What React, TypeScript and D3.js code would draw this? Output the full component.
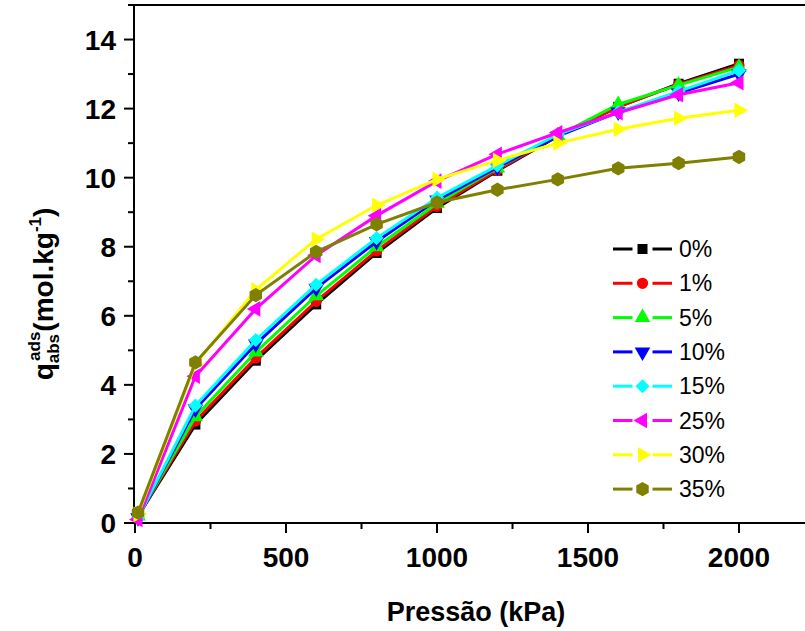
import React from "react";
import * as d3 from "d3";

const pressures = [10, 200, 400, 600, 800, 1000, 1200, 1400, 1600, 1800, 2000];
const seriesNames = ["0%", "1%", "5%", "10%", "15%", "25%", "30%", "35%"];
const s0 = [0.2, 2.85, 4.7, 6.33, 7.82, 9.12, 10.2, 11.2, 12.05, 12.72, 13.3];
const s1 = [0.2, 2.95, 4.78, 6.42, 7.88, 9.17, 10.22, 11.22, 12.05, 12.7, 13.25];
const s5 = [0.2, 3.08, 4.95, 6.58, 8.0, 9.25, 10.28, 11.22, 12.12, 12.68, 13.2];
const s10 = [0.15, 3.3, 5.18, 6.8, 8.15, 9.35, 10.3, 11.2, 11.9, 12.45, 13.0];
const s15 = [0.15, 3.4, 5.3, 6.9, 8.25, 9.42, 10.35, 11.25, 11.9, 12.5, 13.1];
const s25 = [0.1, 4.25, 6.2, 7.75, 8.9, 9.9, 10.68, 11.3, 11.88, 12.4, 12.75];
const s30 = [0.25, 4.6, 6.75, 8.22, 9.2, 9.95, 10.5, 11.0, 11.4, 11.72, 11.95];
const s35 = [0.3, 4.65, 6.6, 7.85, 8.65, 9.28, 9.65, 9.95, 10.27, 10.42, 10.6];
const seriesValues = [s0, s1, s5, s10, s15, s25, s30, s35];
const colors = ["#000000", "#FF0000", "#00FF00", "#0000FF", "#00FFFF", "#FF00FF", "#FFFF00", "#808000"];
const markers = ["square", "circle", "triUp", "triDown", "diamond", "triLeft", "triRight", "hexagon"];

const xTicks = [0, 500, 1000, 1500, 2000];
const xMinor = [250, 750, 1250, 1750, 2250];
const yTicks = [0, 2, 4, 6, 8, 10, 12, 14];
const yMinor = [1, 3, 5, 7, 9, 11, 13, 15];

const W = 805;
const H = 631;
const left = 134;
const top = 5;
const bottom = 523;

const x = d3.scaleLinear().domain([0, 2000]).range([135, 739]);
const y = d3.scaleLinear().domain([0, 15]).range([bottom, top]);

const FONT = "'Liberation Sans', Arial, sans-serif";

function markerPath(kind: string): { d: string; rot: number } {
  switch (kind) {
    case "square":
      return { d: d3.symbol().type(d3.symbolSquare).size(100)() as string, rot: 0 };
    case "circle":
      return { d: d3.symbol().type(d3.symbolCircle).size(100)() as string, rot: 0 };
    case "triUp":
      return { d: d3.symbol().type(d3.symbolTriangle).size(105)() as string, rot: 0 };
    case "triDown":
      return { d: d3.symbol().type(d3.symbolTriangle).size(105)() as string, rot: 180 };
    case "triLeft":
      return { d: d3.symbol().type(d3.symbolTriangle).size(105)() as string, rot: -90 };
    case "triRight":
      return { d: d3.symbol().type(d3.symbolTriangle).size(105)() as string, rot: 90 };
    case "diamond":
      return { d: d3.symbol().type(d3.symbolSquare).size(100)() as string, rot: 45 };
    default: {
      const r = 7.2;
      const pts = d3.range(6).map((i) => {
        const a = (Math.PI / 3) * i - Math.PI / 2;
        return [r * Math.cos(a), r * Math.sin(a)] as [number, number];
      });
      return { d: "M" + pts.map((p) => p.join(",")).join("L") + "Z", rot: 0 };
    }
  }
}

function Marker({ kind, cx, cy, color }: { kind: string; cx: number; cy: number; color: string }) {
  const m = markerPath(kind);
  return <path d={m.d} transform={`translate(${cx},${cy}) rotate(${m.rot})`} fill={color} stroke="none" />;
}

export default function App() {
  const line = d3
    .line<number>()
    .x((_, i) => x(pressures[i]))
    .y((v) => y(v));

  const legendX0 = 613;
  const legendX1 = 672;
  const legendY0 = 249;
  const legendDy = 34.3;

  return (
    <svg
      width={W}
      height={H}
      style={{ position: "absolute", left: 0, top: 0, background: "#fff" }}
      fontFamily={FONT}
    >
      <rect x={0} y={0} width={W} height={H} fill="#fff" />
      {/* frame */}
      <line x1={left} x2={W} y1={top} y2={top} stroke="#000" strokeWidth={2} />
      <line x1={left} x2={left} y1={top - 1} y2={bottom + 1} stroke="#000" strokeWidth={2} />
      <line x1={left - 1} x2={W} y1={bottom} y2={bottom} stroke="#000" strokeWidth={2} />

      {/* x ticks */}
      {xTicks.map((t) => (
        <g key={"xt" + t}>
          <line x1={x(t)} x2={x(t)} y1={bottom} y2={bottom + 10} stroke="#000" strokeWidth={2} />
          <text x={x(t)} y={567} textAnchor="middle" fontSize={28} fontWeight="bold" fill="#000">
            {t}
          </text>
        </g>
      ))}
      {xMinor.map((t) => (
        <line key={"xm" + t} x1={x(t)} x2={x(t)} y1={bottom} y2={bottom + 6} stroke="#000" strokeWidth={2} />
      ))}
      {/* y ticks */}
      {yTicks.map((t) => (
        <g key={"yt" + t}>
          <line x1={left - 10} x2={left} y1={y(t)} y2={y(t)} stroke="#000" strokeWidth={2} />
          <text x={116} y={y(t) + 10} textAnchor="end" fontSize={28} fontWeight="bold" fill="#000">
            {t}
          </text>
        </g>
      ))}
      {yMinor.map((t) => (
        <line key={"ym" + t} x1={left - 6} x2={left} y1={y(t)} y2={y(t)} stroke="#000" strokeWidth={2} />
      ))}

      {/* axis titles */}
      <text x={476} y={621} textAnchor="middle" fontSize={27} fontWeight="bold" fill="#000">
        Pressão (kPa)
      </text>
      <text
        transform={`translate(53,294) rotate(-90)`}
        textAnchor="middle"
        fontSize={28}
        fontWeight="bold"
        fill="#000"
      >
        <tspan>q</tspan>
        <tspan fontSize={17} dy={6}>abs</tspan>
        <tspan fontSize={17} dx={-27} dy={-19}>ads</tspan>
        <tspan dy={13}>(mol.kg</tspan>
        <tspan fontSize={17} dy={-12}>-1</tspan>
        <tspan dy={12}>)</tspan>
      </text>

      {/* series */}
      {seriesValues.map((vals, si) => (
        <g key={"s" + si}>
          <path d={line(vals) as string} fill="none" stroke={colors[si]} strokeWidth={3} />
          {vals.map((v, i) => (
            <Marker key={i} kind={markers[si]} cx={x(pressures[i])} cy={y(v)} color={colors[si]} />
          ))}
        </g>
      ))}

      {/* legend */}
      {seriesNames.map((name, si) => {
        const ly = legendY0 + si * legendDy;
        const mx = (legendX0 + legendX1) / 2;
        return (
          <g key={"lg" + si}>
            <line x1={legendX0} x2={mx - 10} y1={ly} y2={ly} stroke={colors[si]} strokeWidth={3} />
            <line x1={mx + 10} x2={legendX1} y1={ly} y2={ly} stroke={colors[si]} strokeWidth={3} />
            <Marker kind={markers[si]} cx={mx} cy={ly} color={colors[si]} />
            <text x={679} y={ly + 8} fontSize={23} fill="#000">
              {name}
            </text>
          </g>
        );
      })}
    </svg>
  );
}
